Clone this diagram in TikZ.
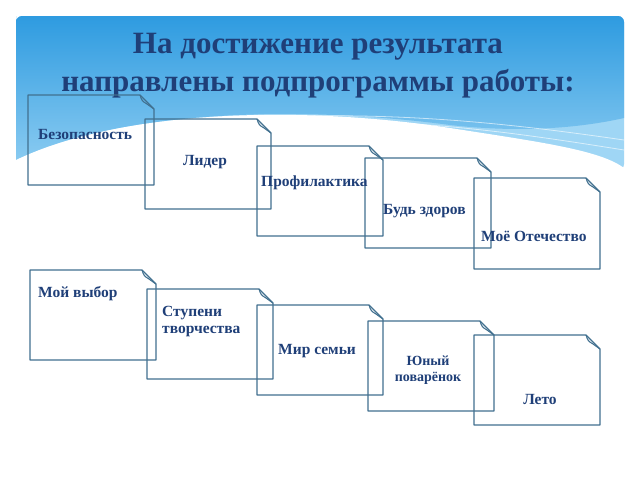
\documentclass[tikz,border=0pt]{standalone}
\usepackage{fontspec}
\setmainfont{Liberation Serif}
\definecolor{tblue}{HTML}{1F3F78}
\definecolor{edge}{HTML}{41708F}
\definecolor{skyA}{HTML}{2E9BE0}
\definecolor{skyB}{HTML}{9FD6F5}
\tikzset{
  doc/.style={draw=edge,line width=1.1pt,line join=round},
  lbl/.style={text=tblue,font=\bfseries\fontsize{15.5}{17}\selectfont,align=center,inner sep=0pt}
}
\newcommand{\docbox}[5]{%
  \draw[doc] (#1,#2) -- (#3-14,#2) -- (#3,#2+14) -- (#3,#4) -- (#1,#4) -- cycle;
  \draw[doc] (#3-14,#2) .. controls (#3-12,#2+6) .. (#3-7,#2+9) -- (#3,#2+14);
  \coordinate (#5) at (#1,#2);}
\begin{document}
\begin{tikzpicture}[x=1pt,y=-1pt]
\useasboundingbox (0,0) rectangle (640,480);
\fill[white] (0,0) rectangle (640,480);
\fill[skyB,rounded corners=6pt] (16,16) rectangle (624,170);
\shade[top color=skyA,bottom color=skyB!80!skyA] (16,22) -- (16,160) .. controls (120,110) and (300,105) .. (450,125) .. controls (520,133) and (580,128) .. (624,118) -- (624,22) [rounded corners=6pt] -- (624,16) -- (16,16) -- cycle;
\draw[white,opacity=0.6,line width=0.8pt] (250,118) .. controls (400,110) and (520,125) .. (624,140);
\draw[white,opacity=0.6,line width=0.8pt] (300,122) .. controls (420,118) and (530,135) .. (624,150);
\fill[white] (16,160) .. controls (120,110) and (300,105) .. (450,128) .. controls (540,142) and (600,150) .. (624,168) -- (624,470) -- (16,470) -- cycle;
\node[text=tblue,font=\bfseries\fontsize{31}{38}\selectfont,align=center] (title) at (318,66) {На достижение результата\\направлены подпрограммы работы:};
\docbox{28}{95}{154}{185}{b1}
\docbox{145}{119}{271}{209}{b2}
\docbox{257}{146}{383}{236}{b3}
\docbox{365}{158}{491}{248}{b4}
\docbox{474}{178}{600}{269}{b5}
\docbox{30}{270}{156}{360}{b6}
\docbox{147}{289}{273}{379}{b7}
\docbox{257}{305}{383}{395}{b8}
\docbox{368}{321}{494}{411}{b9}
\docbox{474}{335}{600}{425}{b10}
\node[lbl,anchor=west] (t1) at (38,134) {Безопасность};
\node[lbl] (t2) at (205,162) {Лидер};
\node[lbl,anchor=west] (t3) at (261,183) {Профилактика};
\node[lbl,anchor=west] (t4) at (383,211) {Будь здоров};
\node[lbl,anchor=west] (t5) at (481,236) {Моё Отечество};
\node[lbl,anchor=west] (t6) at (38,294) {Мой выбор};
\node[lbl,anchor=west,align=left] (t7) at (162,322) {Ступени\\творчества};
\node[lbl,anchor=west] (t8) at (278,351) {Мир семьи};
\node[lbl,font=\bfseries\fontsize{14}{16}\selectfont] (t9) at (428,370) {Юный\\поварёнок};
\node[lbl] (t10) at (540,399) {Лето};
\end{tikzpicture}
\end{document}
